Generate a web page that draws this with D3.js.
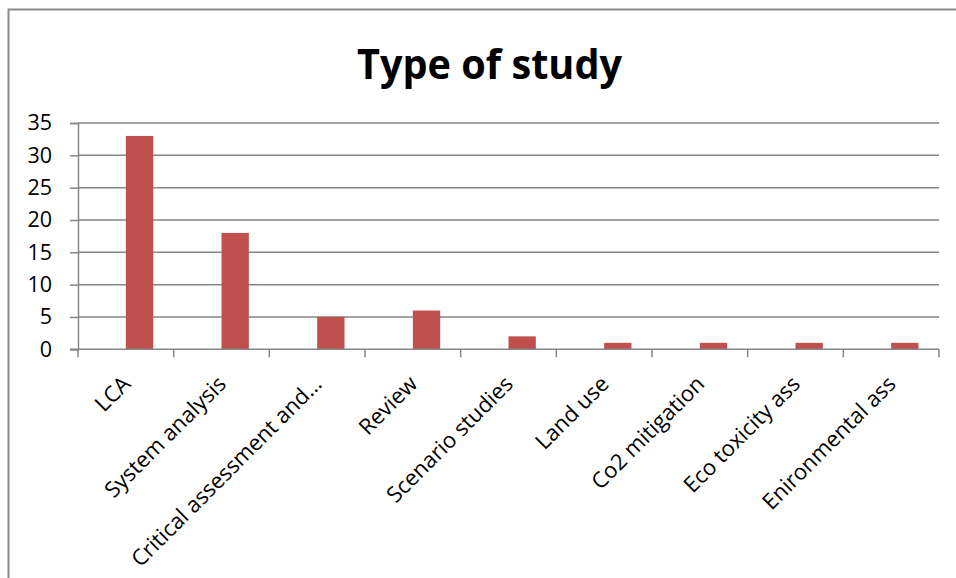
<!DOCTYPE html>
<html>
<head>
<meta charset="utf-8">
<script src="https://cdn.jsdelivr.net/npm/d3@7"></script>
<style>
  html, body { margin: 0; padding: 0; background: #ffffff; }
  svg { display: block; }
  text { font-family: "Open Sans", "Noto Sans", sans-serif; fill: #000; }
</style>
</head>
<body>
<svg id="chart" width="956" height="578"></svg>
<script>
// Study types and how many papers fall into each
const categories = [
  "LCA",
  "System analysis",
  "Critical assessment and\u2026",
  "Review",
  "Scenario studies",
  "Land use",
  "Co2 mitigation",
  "Eco toxicity ass",
  "Enironmental ass"
];
const counts = [33, 18, 5, 6, 2, 1, 1, 1, 1];
// Two series slots per category; the first slot is empty, the counts use the second
const seriesSlots = ["empty", "count"];
const yTicks = [0, 5, 10, 15, 20, 25, 30, 35];
const titleText = "Type of study";

const svg = d3.select("#chart");
const plot = { left: 78, right: 939, top: 123, bottom: 349.3 };
const gridColor = "#868686";
const barColor = "#C0504D";

// Outer chart frame
svg.append("rect")
  .attr("x", 8.5).attr("y", 9.5)
  .attr("width", 970).attr("height", 600)
  .attr("fill", "#fff")
  .attr("stroke", "#898989")
  .attr("stroke-width", 2);

// Title
svg.append("text")
  .attr("x", 489.5).attr("y", 79)
  .attr("text-anchor", "middle")
  .attr("font-weight", 700)
  .attr("font-size", 42)
  .attr("textLength", 265)
  .attr("lengthAdjust", "spacingAndGlyphs")
  .text(titleText);

const x = d3.scaleBand()
  .domain(categories)
  .range([plot.left, plot.right])
  .paddingInner(0).paddingOuter(0);

const xSlot = d3.scaleBand()
  .domain(seriesSlots)
  .range([0, x.bandwidth()])
  .paddingInner(0)
  .paddingOuter(0.75);

const y = d3.scaleLinear()
  .domain([0, 35])
  .range([plot.bottom, plot.top]);

// Horizontal gridlines
svg.append("g")
  .selectAll("line")
  .data(yTicks.filter(t => t > 0))
  .join("line")
  .attr("x1", plot.left).attr("x2", plot.right)
  .attr("y1", d => y(d)).attr("y2", d => y(d))
  .attr("stroke", gridColor)
  .attr("stroke-width", 1.5);

// Value axis
const yAxis = svg.append("g")
  .attr("transform", `translate(${plot.left},0)`)
  .call(d3.axisLeft(y).tickValues(yTicks).tickSize(8).tickPadding(18).tickFormat(d3.format("d")));
yAxis.select(".domain").attr("stroke", gridColor).attr("stroke-width", 1.5);
yAxis.selectAll(".tick line").attr("stroke", gridColor).attr("stroke-width", 1.5);
yAxis.selectAll(".tick text")
  .attr("font-family", "'Open Sans', 'Noto Sans', sans-serif")
  .attr("font-size", 21.5)
  .attr("fill", "#000");

// Bars
svg.append("g")
  .selectAll("rect")
  .data(categories.map((c, i) => ({ c, v: counts[i] })))
  .join("rect")
  .attr("x", d => x(d.c) + xSlot("count"))
  .attr("width", xSlot.bandwidth())
  .attr("y", d => y(d.v))
  .attr("height", d => y(0) - y(d.v))
  .attr("fill", barColor);

// Category axis: line plus ticks on the band boundaries
const xAxis = svg.append("g");
xAxis.append("line")
  .attr("x1", plot.left - 8).attr("x2", plot.right)
  .attr("y1", y(0)).attr("y2", y(0))
  .attr("stroke", gridColor).attr("stroke-width", 1.5);
const edges = categories.map(c => x(c)).concat([x.range()[1]]);
xAxis.selectAll("line.tick")
  .data(edges)
  .join("line")
  .attr("class", "tick")
  .attr("x1", d => d).attr("x2", d => d)
  .attr("y1", y(0)).attr("y2", y(0) + 8)
  .attr("stroke", gridColor).attr("stroke-width", 1.5);

// Rotated category labels
xAxis.selectAll("text")
  .data(categories)
  .join("text")
  .attr("transform", d => `translate(${x(d) + x.bandwidth() / 2 + 6},${y(0) + 36}) rotate(-45)`)
  .attr("text-anchor", "end")
  .attr("font-size", 22)
  .text(d => d);
</script>
</body>
</html>
